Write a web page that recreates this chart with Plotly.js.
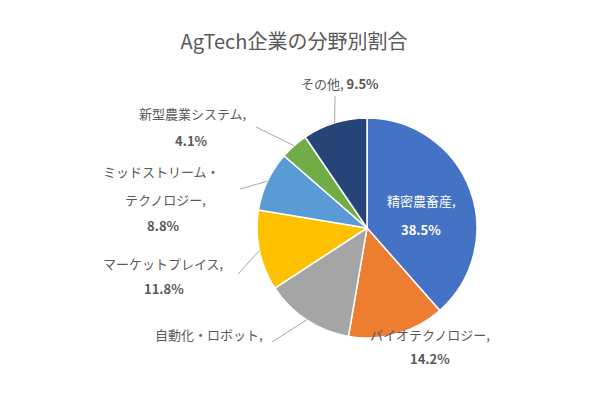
<!DOCTYPE html>
<html>
<head>
<meta charset="utf-8">
<script src="https://cdn.plot.ly/plotly-3.0.1.min.js"></script>
<style>
  html, body { margin: 0; padding: 0; background: #fff; }
  #chart { width: 600px; height: 400px; }
</style>
</head>
<body>
<div id="chart"></div>
<script>
var labels = ['精密農畜産', 'バイオテクノロジー', '自動化・ロボット', 'マーケットプレイス', 'ミッドストリーム・テクノロジー', '新型農業システム', 'その他'];
var values = [38.5, 14.2, 13.1, 11.8, 8.8, 4.1, 9.5];
var colors = ['#4472C4', '#ED7D31', '#A5A5A5', '#FFC000', '#5B9BD5', '#70AD47', '#264478'];

// label layout, in pixels of the 600x400 picture
var W = 600, H = 400;
var cx = 367, cy = 228, R = 110;
var labelSpots = [
  { lines: [[421, 201], [421, 229]], inside: true },
  { lines: [[430, 334], [430, 358]] },
  { lines: [[209, 334]], tail: [272, 342], noPct: true },
  { lines: [[163, 263], [164, 288]], tail: [238, 274] },
  { lines: [[161, 172], [165, 199], [163, 225]], tail: [240, 189] },
  { lines: [[192, 114], [191, 140]], tail: [256, 127] },
  { lines: [[340, 84]], tail: [335, 96], sameLine: true }
];

function px(x) { return x / W; }
function py(y) { return 1 - y / H; }

var annotations = [];
var shapes = [];
var total = values.reduce(function(a, b) { return a + b; }, 0);
var cum = 0;

values.forEach(function(v, i) {
  var spot = labelSpots[i];
  var pct = '<b>' + v.toFixed(1) + '%</b>';
  var nameLines = labels[i].indexOf('・') > 0 && labels[i].length > 12
    ? [labels[i].split('・')[0] + '・', labels[i].split('・')[1] + ',']
    : [labels[i] + ','];
  var lines;
  if (spot.sameLine) lines = [nameLines[0] + ' ' + pct];
  else if (spot.noPct) lines = nameLines;
  else lines = nameLines.concat([pct]);

  lines.forEach(function(t, k) {
    annotations.push({
      xref: 'paper', yref: 'paper',
      x: px(spot.lines[k][0]), y: py(spot.lines[k][1]),
      xanchor: 'center', yanchor: 'middle',
      text: t, showarrow: false,
      font: { family: 'Noto Sans CJK JP', size: 13, color: spot.inside ? '#ffffff' : '#595959' }
    });
  });

  // leader line from the slice edge to its label
  var mid = (cum + v / 2) / total * 2 * Math.PI;
  cum += v;
  if (spot.tail) {
    var ex = cx + R * Math.sin(mid);
    var ey = cy - R * Math.cos(mid);
    shapes.push({
      type: 'line', xref: 'paper', yref: 'paper',
      x0: px(spot.tail[0]), y0: py(spot.tail[1]),
      x1: px(ex), y1: py(ey),
      line: { color: '#A6A6A6', width: 1 }
    });
  }
});

var trace = {
  type: 'pie',
  labels: labels,
  values: values,
  textinfo: 'none',
  sort: false,
  direction: 'clockwise',
  rotation: 0,
  marker: { colors: colors, line: { color: '#fff', width: 1.5 } },
  domain: { x: [px(cx - R), px(cx + R)], y: [py(cy + R), py(cy - R)] },
  hoverinfo: 'label+percent'
};

var layout = {
  width: W,
  height: H,
  title: {
    text: 'AgTech企業の分野別割合',
    font: { family: 'Noto Sans CJK JP', size: 20, color: '#595959' },
    x: 0.49, xanchor: 'center', y: 0.895, yanchor: 'middle'
  },
  showlegend: false,
  margin: { l: 0, r: 0, t: 0, b: 0 },
  paper_bgcolor: '#fff',
  annotations: annotations,
  shapes: shapes
};

Plotly.newPlot('chart', [trace], layout, { displayModeBar: false });
</script>
</body>
</html>
